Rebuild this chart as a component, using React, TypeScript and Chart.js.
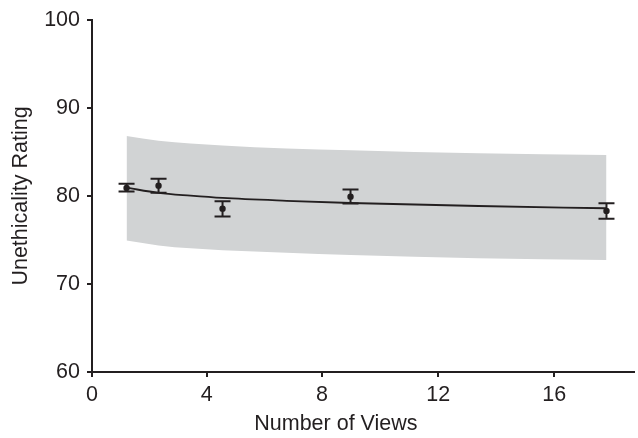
import { useEffect, useRef } from "react";
import { Chart, registerables } from "chart.js";

Chart.register(...registerables);

// Observed means with error bars
const viewCounts = [1, 2, 4, 8, 16];
const meanRatings = [80.9, 81.17, 78.56, 79.92, 78.3];
const errorLow = [80.5, 80.37, 77.66, 79.13, 77.4];
const errorHigh = [81.4, 81.96, 79.4, 80.72, 79.17];

// Fitted curve and its band
const fitX = [1, 2, 3, 4, 6, 8, 12, 16];
const fitLine = [80.94, 80.35, 80.03, 79.77, 79.45, 79.2, 78.86, 78.6];
const bandUpper = [86.8, 86.27, 85.95, 85.74, 85.38, 85.2, 84.85, 84.65];
const bandLower = [74.94, 74.38, 74.05, 73.83, 73.55, 73.28, 72.93, 72.71];

// Axis ticks
const yTicks = [60, 70, 80, 90, 100];
const xTickPositions = [-0.08, 3.506, 7.11, 10.74, 14.37];
const xTickLabels = ["0", "4", "8", "12", "16"];

const INK = "#231f20";
const BAND = "#d1d3d4";
const FONT = '"Liberation Sans", Arial, sans-serif';
const FONT_SIZE = 21.5;

export default function App() {
  const ref = useRef<HTMLCanvasElement | null>(null);

  useEffect(() => {
    if (!ref.current) return;

    const errorBars = {
      id: "errorBars",
      afterDatasetsDraw(chart: any) {
        const { ctx } = chart;
        const x = chart.scales.x;
        const y = chart.scales.y;
        ctx.save();
        ctx.strokeStyle = INK;
        ctx.lineWidth = 2;
        viewCounts.forEach((v, i) => {
          const px = x.getPixelForValue(v);
          const lo = y.getPixelForValue(errorLow[i]);
          const hi = y.getPixelForValue(errorHigh[i]);
          ctx.beginPath();
          ctx.moveTo(px, lo);
          ctx.lineTo(px, hi);
          ctx.moveTo(px - 8, lo);
          ctx.lineTo(px + 8, lo);
          ctx.moveTo(px - 8, hi);
          ctx.lineTo(px + 8, hi);
          ctx.stroke();
        });
        ctx.restore();
      },
    };

    const xTitle = {
      id: "xTitle",
      afterDraw(chart: any) {
        const { ctx, chartArea } = chart;
        ctx.save();
        ctx.fillStyle = INK;
        ctx.font = `${FONT_SIZE}px ${FONT}`;
        ctx.textAlign = "center";
        ctx.textBaseline = "middle";
        const cx = chartArea.left + (chartArea.right - chartArea.left) * 0.45;
        ctx.fillText("Number of Views", cx, chart.height - 14);
        ctx.restore();
      },
    };

    const chart = new Chart(ref.current, {
      type: "line",
      data: {
        datasets: [
          {
            data: fitX.map((x, i) => ({ x, y: bandUpper[i] })),
            borderWidth: 0,
            borderColor: BAND,
            pointRadius: 0,
            fill: "+1",
            backgroundColor: BAND,
            cubicInterpolationMode: "monotone",
            order: 3,
          },
          {
            data: fitX.map((x, i) => ({ x, y: bandLower[i] })),
            borderWidth: 0,
            borderColor: BAND,
            pointRadius: 0,
            fill: false,
            cubicInterpolationMode: "monotone",
            order: 3,
          },
          {
            data: fitX.map((x, i) => ({ x, y: fitLine[i] })),
            borderColor: INK,
            borderWidth: 1.8,
            pointRadius: 0,
            fill: false,
            cubicInterpolationMode: "monotone",
            order: 2,
          },
          {
            data: viewCounts.map((x, i) => ({ x, y: meanRatings[i] })),
            showLine: false,
            pointRadius: 3.2,
            pointBackgroundColor: INK,
            pointBorderWidth: 0,
            fill: false,
            order: 1,
          },
        ],
      },
      options: {
        animation: false,
        responsive: false,
        layout: { padding: { top: 19, right: 1, left: 0, bottom: 0 } },
        plugins: { legend: { display: false }, tooltip: { enabled: false } },
        scales: {
          x: {
            type: "linear",
            min: -0.08,
            max: 16.86,
            afterBuildTicks: (scale: any) => {
              scale.ticks = xTickPositions.map((v) => ({ value: v }));
            },
            afterFit: (scale: any) => {
              scale.height = 66;
            },
            border: { display: true, color: INK, width: 2 },
            grid: {
              display: true,
              drawOnChartArea: false,
              drawTicks: true,
              tickLength: 5,
              color: INK,
              lineWidth: 2,
            },
            ticks: {
              autoSkip: false,
              maxRotation: 0,
              padding: 5,
              color: INK,
              font: { family: FONT, size: FONT_SIZE },
              callback: (_v: any, idx: number) => xTickLabels[idx],
            },
          },
          y: {
            type: "linear",
            min: 60,
            max: 100,
            afterBuildTicks: (scale: any) => {
              scale.ticks = yTicks.map((v) => ({ value: v }));
            },
            afterFit: (scale: any) => {
              scale.width = 92;
            },
            border: { display: true, color: INK, width: 2 },
            grid: {
              display: true,
              drawOnChartArea: false,
              drawTicks: true,
              tickLength: 5,
              color: INK,
              lineWidth: 2,
            },
            ticks: {
              padding: 7,
              color: INK,
              font: { family: FONT, size: FONT_SIZE },
            },
            title: {
              display: true,
              text: "Unethicality Rating",
              color: INK,
              font: { family: FONT, size: FONT_SIZE },
              padding: { top: 8, bottom: 0 },
            },
          },
        },
      },
      plugins: [errorBars, xTitle],
    });

    return () => chart.destroy();
  }, []);

  return (
    <div style={{ position: "absolute", left: 0, top: 0, width: 638, height: 438 }}>
      <canvas ref={ref} width={638} height={438} style={{ display: "block" }} />
    </div>
  );
}
